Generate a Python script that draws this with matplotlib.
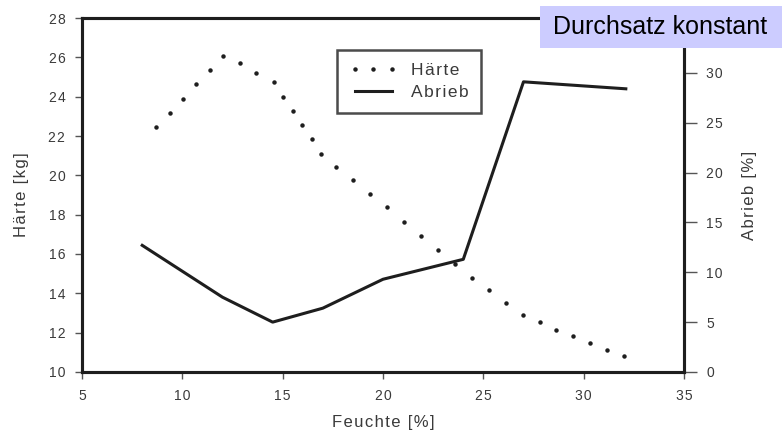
import matplotlib.pyplot as plt
from matplotlib.patches import Rectangle
from matplotlib.lines import Line2D

plt.rcParams['font.family'] = ['Liberation Sans', 'DejaVu Sans']

# Härte (left axis), dotted series
haerte_x = [8.69, 9.37, 10.01, 10.68, 11.36, 12.03, 12.86, 13.69, 14.55, 15.03,
            15.51, 15.98, 16.46, 16.92, 17.67, 18.52, 19.35, 20.18, 21.04, 21.87,
            22.72, 23.58, 24.41, 25.26, 26.11, 26.96, 27.80, 28.63, 29.48, 30.32,
            31.17, 32.02]
haerte_y = [22.47, 23.18, 23.90, 24.63, 25.35, 26.08, 25.70, 25.20, 24.73, 24.00,
            23.29, 22.57, 21.84, 21.11, 20.43, 19.75, 19.07, 18.37, 17.62, 16.91,
            16.18, 15.47, 14.77, 14.15, 13.51, 12.90, 12.52, 12.16, 11.83, 11.49,
            11.14, 10.80]

# Abrieb (right axis), solid line
abrieb_x = [8.0, 12.0, 14.5, 17.0, 20.0, 24.0, 27.0, 32.1]
abrieb_y = [12.7, 7.5, 5.0, 6.4, 9.3, 11.3, 29.1, 28.4]

x_ticks = [5, 10, 15, 20, 25, 30, 35]
left_ticks = [10, 12, 14, 16, 18, 20, 22, 24, 26, 28]
right_ticks = [0, 5, 10, 15, 20, 25, 30]

ink = '#1e1e1e'
txt = '#3a3a3a'


def spaced(s, gap='\u200a'):
    # the scanned original has wide letter spacing
    return gap.join(s)


fig = plt.figure(figsize=(7.82, 4.34), dpi=100)
ax = fig.add_axes([0.1049, 0.1429, 0.7698, 0.8156])
ax2 = ax.twinx()

ax.plot(haerte_x, haerte_y, linestyle='none', marker='o', markersize=2.2,
        color=ink)
ax2.plot(abrieb_x, abrieb_y, color=ink, linewidth=2.2)

ax.set_xlim(5, 35)
ax.set_ylim(10, 28)
ax2.set_ylim(0, 35.5)
ax.set_xticks(x_ticks, [spaced(str(v)) for v in x_ticks])
ax.set_yticks(left_ticks, [spaced(str(v)) for v in left_ticks])
ax2.set_yticks(right_ticks, [spaced(str(v)) for v in right_ticks])

for a in (ax, ax2):
    for sp in a.spines.values():
        sp.set_linewidth(2.2)
        sp.set_color(ink)
ax.tick_params(direction='out', length=5, width=1, color='#555555',
               labelcolor=txt, labelsize=10, pad=7)
ax2.tick_params(direction='out', length=9, width=1, color='#555555',
                labelcolor=txt, labelsize=10, pad=7)

ax.set_xlabel(spaced('Feuchte [%]'), fontsize=12, color=txt, labelpad=9)
ax.set_ylabel(spaced('Härte [kg]'), fontsize=12, color=txt, labelpad=14)
ax2.set_ylabel(spaced('Abrieb [%]'), fontsize=12, color=txt, labelpad=14)

handles = [
    Line2D([], [], linestyle='none', marker='o', markersize=2.2, color=ink),
    Line2D([], [], color=ink, linewidth=2.2),
]
leg = ax2.legend(handles, [spaced('Härte'), spaced('Abrieb')],
                 loc='upper left', bbox_to_anchor=(0.4236, 0.9096), numpoints=3,
                 fontsize=12.5, frameon=True, fancybox=False, borderpad=0.75,
                 handlelength=2.7, handletextpad=0.8, labelspacing=0.4,
                 borderaxespad=0)
for t in leg.get_texts():
    t.set_color(txt)
leg.get_frame().set_edgecolor(ink)
leg.get_frame().set_linewidth(1.8)

fig.patches.append(Rectangle((0.6905, 0.8894), 0.3095, 0.0968,
                             transform=fig.transFigure, facecolor='#ccccff',
                             edgecolor='none', zorder=10))
fig.text(0.8446, 0.9378, 'Durchsatz konstant', ha='center', va='center',
         fontsize=18, color='black', zorder=11)

fig.savefig('out.png', dpi=100)
